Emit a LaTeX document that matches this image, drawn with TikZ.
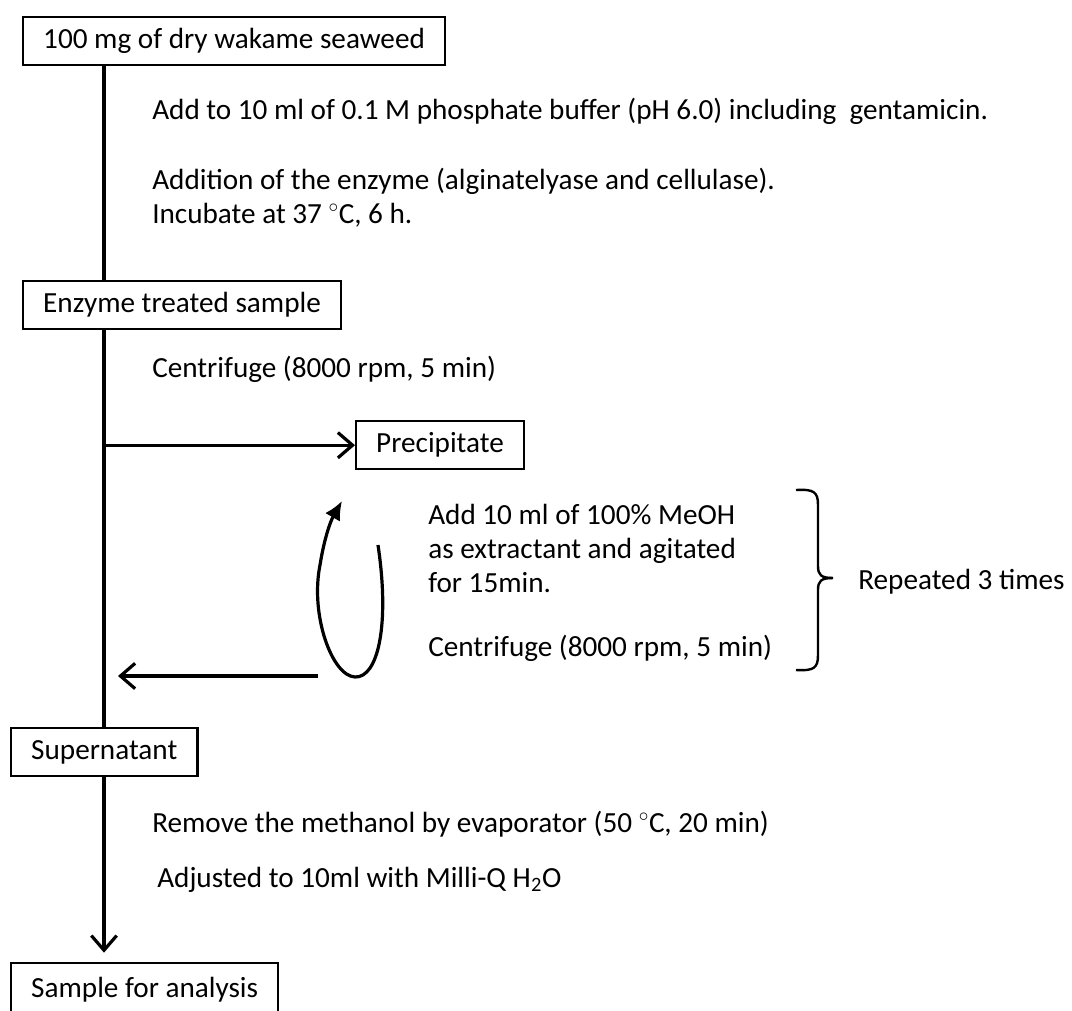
\documentclass[tikz,border=0pt]{standalone}
\usepackage{fontspec}
\setmainfont{Carlito}
\usetikzlibrary{positioning,calc,arrows.meta}
\newcommand{\stepfont}{\fontsize{21.9}{25.5}\selectfont}
\begin{document}
\begin{tikzpicture}[x=0.75pt,y=-0.75pt,
    stepbox/.style={draw,line width=1.8pt,anchor=north west,font=\stepfont,
        inner xsep=15pt,minimum height=36pt},
    note/.style={anchor=base west,inner sep=0pt,font=\stepfont,align=left},
    flow/.style={line width=2.4pt},
    barb/.style={-{Straight Barb[length=11pt,width=19pt,line width=2.4pt]}}]
    \useasboundingbox (0,0) rectangle (1072,1011);

    % Boxes of the procedure
    \node[stepbox] (seaweed) at (22,16) {100 mg of dry wakame seaweed};
    \node[stepbox] (enzyme) at (22,280) {Enzyme treated sample};
    \node[stepbox] (precip) at (355,420) {Precipitate};
    \node[stepbox] (super) at (10,727) {Supernatant};
    \node[stepbox,minimum height=40pt] (sample) at (10,962) {Sample for analysis};

    % Main line
    \coordinate (spine) at (104,0);
    \draw[flow] (seaweed.south -| spine) -- (enzyme.north -| spine);
    \draw[flow] (enzyme.south -| spine) -- (super.north -| spine);
    \draw[flow,barb,shorten >=7pt] (super.south -| spine) -- (sample.north -| spine);

    % Branch to the precipitate
    \coordinate (branch) at (spine |- precip.west);
    \draw[flow,barb] (branch) -- (precip.west);

    % Extraction loop and return
    \coordinate (loopstart) at (378,545);
    \coordinate (looptip) at (342,501);
    \coordinate (backfrom) at (318,676);
    \coordinate (backto) at (118,676);
    \draw[flow,-{Latex[length=14pt,width=13pt]}] (loopstart)
        .. controls (390,625) and (378,678) .. (355,677)
        .. controls (332,676) and (310,615) .. (320,565)
        .. controls (324,540) and (330,522) .. (looptip);
    \draw[flow,barb] (backfrom) -- (backto);

    % Brace over the repeated steps
    \coordinate (bracetop) at (796,490);
    \coordinate (bracebot) at (796,670);
    \coordinate (bracetip) at (833,578);
    \draw[line width=1.8pt] (bracetop) .. controls (814,489) and (818,492) .. (818,505)
        -- (818,566) .. controls (818,575) and (821,578) .. (bracetip);
    \draw[line width=1.8pt] (bracebot) .. controls (814,671) and (818,668) .. (818,655)
        -- (818,590) .. controls (818,581) and (821,578) .. (bracetip);

    % Texts of the steps (multi-line notes sit on their last baseline)
    \node[note] (buffer) at (152,119) {Add to 10 ml of 0.1 M phosphate buffer (pH 6.0) including\ \ gentamicin.};
    \node[note] (addenz) at (152,223) {Addition of the enzyme (alginatelyase and cellulase).\\Incubate at 37 $^{\circ}$C, 6 h.};
    \node[note] (centri) at (152,377) {Centrifuge (8000 rpm, 5 min)};
    \node[note] (meoh) at (428,592) {Add 10 ml of 100\% MeOH\\as extractant and agitated\\for 15min.};
    \node[note] (centrib) at (428,656) {Centrifuge (8000 rpm, 5 min)};
    \node[note] (repeat) at (858,589) {Repeated 3 times};
    \node[note] (evap) at (152,832) {Remove the methanol by evaporator (50 $^{\circ}$C, 20 min)};
    \node[note] (adjust) at (157,887) {Adjusted to 10ml with Milli-Q H\textsubscript{2}O};
\end{tikzpicture}
\end{document}
